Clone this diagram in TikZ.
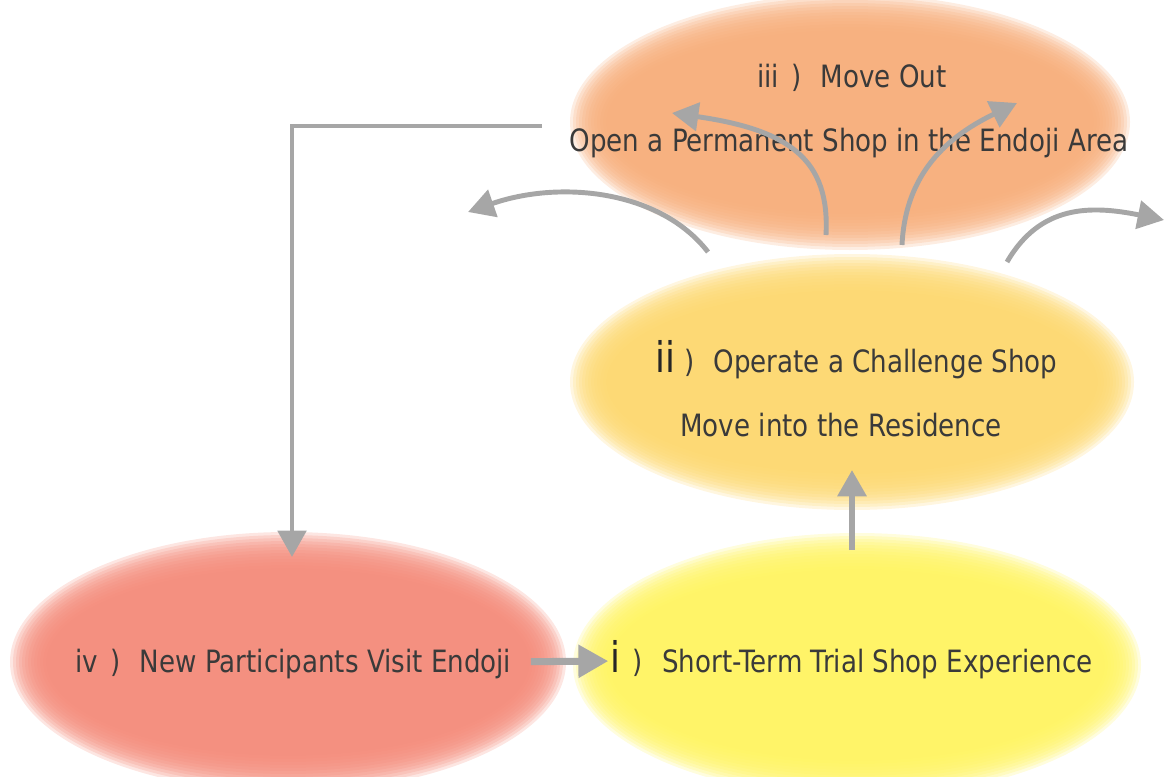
\documentclass[tikz,border=0pt]{standalone}
\usepackage{fontspec}
\setmainfont{DejaVu Sans}[FakeStretch=0.85]
\usetikzlibrary{arrows.meta}
\usetikzlibrary{positioning}
\definecolor{moveout}{HTML}{F7AE7B}
\definecolor{challenge}{HTML}{FDD870}
\definecolor{trial}{HTML}{FFF462}
\definecolor{visit}{HTML}{F48C7B}
\definecolor{flow}{HTML}{A6A6A6}
\definecolor{ink}{HTML}{3A3A3A}
\tikzset{
    stage/.style = {inner sep=0pt, text=ink, font=\fontsize{17.5}{20}\selectfont},% texte des etapes
    flowline/.style = {draw=flow, line width=2.8pt,
        -{Triangle[length=15pt, width=16pt]}},% fleche grise
    flowfat/.style = {flowline, line width=4pt,
        -{Triangle[length=17pt, width=18pt]}},% fleche epaisse
}
% tache floue : centre, rayon x, rayon y, couleur
\newcommand{\blurblob}[4]{%
    \foreach \d in {-18,-15,...,18}
        \fill[#4, opacity=0.22] (#1) ellipse [x radius=#2+\d, y radius=#3+\d];
}
\newcommand{\bignum}[1]{{\fontsize{24}{28}\selectfont\color{black!85}#1}}
\newcommand{\paren}[2]{#1\hspace{#2})\hspace{11pt}}

\begin{document}
\begin{tikzpicture}[x=0.02cm, y=-0.02cm]
\useasboundingbox (0,0) rectangle (1166,777);
\clip (0,0) rectangle (1166,777);

% les quatre etapes
\blurblob{850,122}{262}{110}{moveout}
\blurblob{852,382}{264}{110}{challenge}
\blurblob{857,665}{266}{114}{trial}
\blurblob{288,662}{260}{112}{visit}

\node[stage] (outhead) at (852,78) {\paren{iii}{7pt}Move Out};
\node[stage] (outtext) at (849,143) {Open a Permanent Shop in the Endoji Area};
\node[stage, anchor=base west] (chhead) at (655,372) {\paren{\bignum{ii}}{5pt}Operate a Challenge Shop};
\node[stage, anchor=base west] (chtext) at (680,436) {Move into the Residence};
\node[stage, anchor=base west] (visit) at (75,672) {\paren{iv}{7pt}New Participants Visit Endoji};
\node[stage, anchor=base west] (trial) at (610,672) {\paren{\bignum{i}}{7pt}Short-Term Trial Shop Experience};

% points libres des fleches
\coordinate (loopstart) at (542,126);
\coordinate (loopend) at (292,557);
\coordinate (upstart) at (852,550);
\coordinate (upend) at (852,470);
\coordinate (farleft) at (708,252);
\coordinate (farlefttip) at (468,212);
\coordinate (midleft) at (826,235);
\coordinate (midlefttip) at (672,113);
\coordinate (midright) at (902,245);
\coordinate (midrighttip) at (1017,103);
\coordinate (farright) at (1007,262);
\coordinate (farrighttip) at (1164,220);

\draw[flowline] (loopstart) -| (loopend);
\draw[flowfat, shorten <=11pt, shorten >=1pt] (visit) -- (trial);
\draw[flowline, line width=3.4pt] (upstart) -- (upend);
\draw[flowline] (farleft) .. controls (660,190) and (560,180) .. (farlefttip);
\draw[flowline] (midleft) .. controls (830,160) and (790,130) .. (midlefttip);
\draw[flowline] (midright) .. controls (905,180) and (940,140) .. (midrighttip);
\draw[flowline] (farright) .. controls (1040,205) and (1090,205) .. (farrighttip);
\end{tikzpicture}
\end{document}
